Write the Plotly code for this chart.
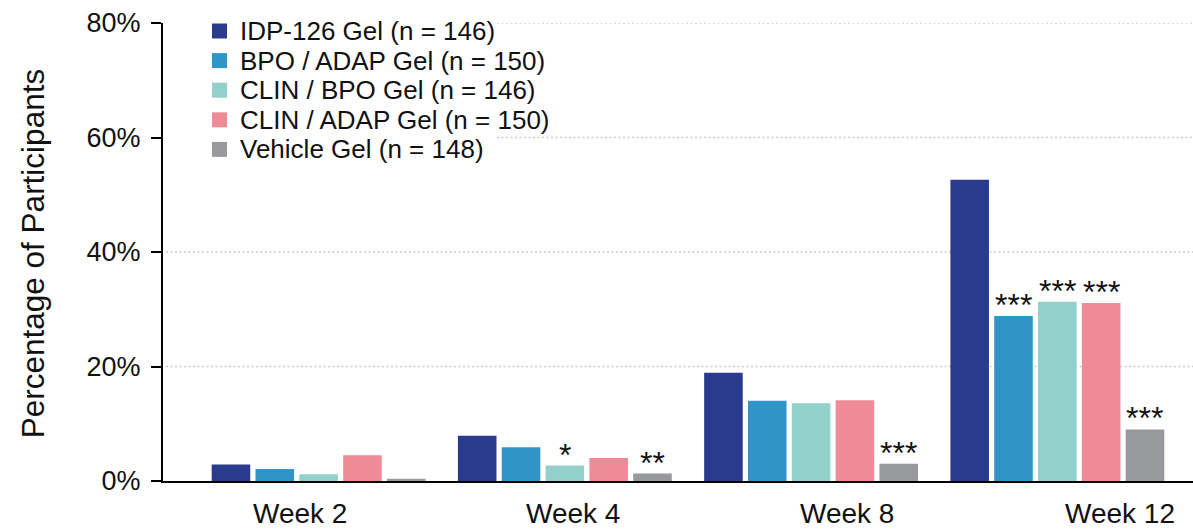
import plotly.graph_objects as go

# Proportion of participants reaching treatment success, by visit
weeks = ["Week 2", "Week 4", "Week 8", "Week 12"]

series_names = [
    "IDP-126 Gel (n = 146)",
    "BPO / ADAP Gel (n = 150)",
    "CLIN / BPO Gel (n = 146)",
    "CLIN / ADAP Gel (n = 150)",
    "Vehicle Gel (n = 148)",
]
series_colors = ["#2a3a8c", "#3194c8", "#92d0cc", "#ee8b97", "#98999c"]

idp126 = [2.9, 7.9, 18.9, 52.6]
bpo_adap = [2.1, 5.9, 14.0, 28.8]
clin_bpo = [1.2, 2.7, 13.6, 31.3]
clin_adap = [4.5, 4.0, 14.1, 31.1]
vehicle = [0.4, 1.3, 3.0, 9.0]

# significance markers vs IDP-126
sig_idp126 = ["", "", "", ""]
sig_bpo_adap = ["", "", "", "***"]
sig_clin_bpo = ["", "*", "", "***"]
sig_clin_adap = ["", "", "", "***"]
sig_vehicle = ["", "**", "***", "***"]

y_ticks = [0, 20, 40, 60, 80]
y_title = "Percentage of Participants"

values = [idp126, bpo_adap, clin_bpo, clin_adap, vehicle]
sigs = [sig_idp126, sig_bpo_adap, sig_clin_bpo, sig_clin_adap, sig_vehicle]

FONT = "Liberation Sans, Arial, Helvetica, sans-serif"
INK = "#111111"

W, H = 1193, 529
M_L, M_R, M_T, M_B = 163, 0, 23, 48
PW, PH = W - M_L - M_R, H - M_T - M_B

BARGAP = 0.11
GROUPGAP = 0.12
X_RANGE = [-0.632, 3.551]
Y_RANGE = [0, 80]


def px_to_x(px):
    return X_RANGE[0] + (px - M_L) / PW * (X_RANGE[1] - X_RANGE[0])


fig = go.Figure()
for name, color, vals in zip(series_names, series_colors, values):
    fig.add_trace(go.Bar(
        x=weeks, y=vals, name=name,
        marker=dict(color=color, line=dict(width=0)),
        hoverinfo="x+y+name",
    ))

annotations = []
shapes = []

# dotted grid; the upper lines stop short of the key in the top-left corner
KEY_RIGHT_X = px_to_x(497)
KEY_BOTTOM_VALUE = 50
for t in y_ticks:
    if t == 0:
        continue
    x_start = KEY_RIGHT_X if t > KEY_BOTTOM_VALUE else px_to_x(166)
    shapes.append(dict(
        type="line", xref="x", yref="y",
        x0=x_start, x1=X_RANGE[1], y0=t, y1=t,
        line=dict(color="#cccccc", width=1.5, dash="2px,2.5px"),
        layer="below",
    ))

# asterisks above the bars
slot = (1 - BARGAP) / len(series_names)
for i, (vals, marks) in enumerate(zip(values, sigs)):
    for j, (v, m) in enumerate(zip(vals, marks)):
        if not m:
            continue
        annotations.append(dict(
            x=j + (i - (len(series_names) - 1) / 2) * slot, y=v,
            xref="x", yref="y", text=m, showarrow=False,
            xanchor="center", yanchor="bottom", yshift=-9,
            font=dict(family=FONT, size=32, color=INK),
        ))

# week labels along the category axis
label_x0 = (300 - M_L) / PW
label_step = 273.3 / PW
for k, wk in enumerate(weeks):
    annotations.append(dict(
        x=label_x0 + k * label_step, y=-(513 - (M_T + PH)) / PH,
        xref="paper", yref="paper", text=wk, showarrow=False,
        xanchor="center", yanchor="middle",
        font=dict(family=FONT, size=28, color=INK),
    ))

# y-axis title
annotations.append(dict(
    x=(33 - M_L) / PW, y=0.495, xref="paper", yref="paper",
    text=y_title, textangle=-90, showarrow=False,
    xanchor="center", yanchor="middle",
    font=dict(family=FONT, size=31.5, color=INK),
))

# key: colour squares and series names
key_top, key_step, half = 31, 29.6, 7.5
for i, (name, color) in enumerate(zip(series_names, series_colors)):
    yc = key_top + i * key_step
    yp = (M_T + PH - yc) / PH
    shapes.append(dict(
        type="rect", xref="paper", yref="paper",
        x0=(212 - M_L) / PW, x1=(227 - M_L) / PW,
        y0=yp - half / PH, y1=yp + half / PH,
        fillcolor=color, line=dict(width=0), layer="above",
    ))
    annotations.append(dict(
        x=(238 - M_L) / PW, y=yp, xref="paper", yref="paper",
        text=name, showarrow=False, xanchor="left", yanchor="middle",
        font=dict(family=FONT, size=26, color=INK),
    ))

fig.update_layout(
    width=W, height=H,
    margin=dict(l=M_L, r=M_R, t=M_T, b=M_B, pad=0),
    paper_bgcolor="white", plot_bgcolor="white",
    barmode="group", bargap=BARGAP, bargroupgap=GROUPGAP,
    showlegend=False,
    font=dict(family=FONT, color=INK),
    annotations=annotations,
    shapes=shapes,
    xaxis=dict(
        type="category", categoryorder="array", categoryarray=weeks,
        range=X_RANGE,
        showline=True, linecolor="black", linewidth=2,
        ticks="", showticklabels=False, showgrid=False, zeroline=False,
    ),
    yaxis=dict(
        range=Y_RANGE, tickmode="array", tickvals=y_ticks,
        ticktext=[f"{t}%" for t in y_ticks],
        ticks="outside", ticklen=10, tickwidth=2, tickcolor="black",
        showline=True, linecolor="black", linewidth=2,
        showgrid=False, zeroline=False,
        tickfont=dict(family=FONT, size=27, color=INK),
        ticklabelstandoff=5,
    ),
)

fig.write_html("out.html")
